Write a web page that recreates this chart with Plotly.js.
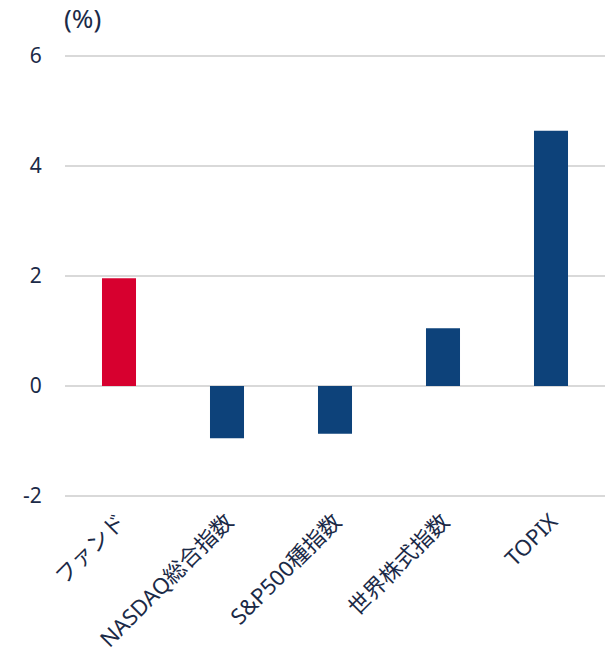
<!DOCTYPE html>
<html><head><meta charset="utf-8">
<script src="https://cdn.plot.ly/plotly-3.0.1.min.js"></script>
<style>html,body{margin:0;padding:0;background:#fff;}#chart{width:609px;height:655px;}</style>
</head><body><div id="chart"></div>
<script>
const categories = ["ファンド", "NASDAQ総合指数", "S&P500種指数", "世界株式指数", "TOPIX"];
const values = [1.96, -0.95, -0.87, 1.05, 4.64];
const barColors = ["#d7002f", "#0d427a", "#0d427a", "#0d427a", "#0d427a"];
const yTicks = [-2, 0, 2, 4, 6];
const unitLabel = "(%)";

const font = "'Noto Sans', 'Noto Sans CJK JP', sans-serif";
const textColor = "#1b2a47";

Plotly.newPlot("chart", [{
  type: "bar",
  x: categories,
  y: values,
  marker: {color: barColors},
  hoverinfo: "skip"
}], {
  width: 609, height: 655,
  margin: {l: 65, r: 4, t: 55, b: 158},
  paper_bgcolor: "#fff", plot_bgcolor: "#fff",
  bargap: 0.685,
  showlegend: false,
  font: {family: font, color: textColor},
  xaxis: {
    type: "category",
    tickangle: -45,
    tickfont: {size: 22, color: textColor, family: font},
    showgrid: false, showline: false, ticks: "outside", ticklen: 2, tickcolor: "rgba(0,0,0,0)", fixedrange: true
  },
  yaxis: {
    range: [-2.02, 6.02],
    tickvals: yTicks,
    ticktext: yTicks.map(String),
    tickfont: {size: 21, color: textColor, family: font},
    showgrid: true, gridcolor: "#d9d9d9", gridwidth: 2,
    zeroline: true, zerolinecolor: "#d9d9d9", zerolinewidth: 2,
    showline: false, ticks: "outside", ticklen: 18, tickcolor: "rgba(0,0,0,0)"
  },
  annotations: [{
    text: unitLabel, xref: "paper", yref: "paper", x: 0, y: 1,
    xanchor: "left", yanchor: "bottom", yshift: 17, xshift: -3,
    showarrow: false, font: {size: 26, color: textColor, family: font}
  }]
}, {displayModeBar: false, staticPlot: true});
</script></body></html>
